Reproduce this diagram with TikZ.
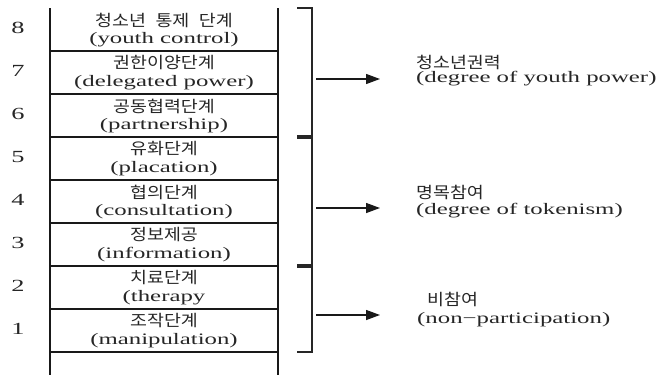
\documentclass[tikz,border=0pt]{standalone}
\usepackage{fontspec}
\setmainfont[FakeStretch=1.55]{Liberation Serif}
\newfontfamily\kr[FakeStretch=1.15]{Noto Sans CJK KR}
\usetikzlibrary{arrows.meta}
\begin{document}
\begin{tikzpicture}[x=1pt,y=-1pt,
  rail/.style={line width=2pt, draw=black!90},
  rung/.style={line width=1.7pt, draw=black!90},
  brk/.style={line width=1.2pt, draw=black!85},
  arr/.style={line width=1.3pt, draw=black!90, -{Triangle[length=14pt,width=10pt]}},
  kor/.style={font=\kr\fontsize{16}{16}\selectfont, inner sep=0pt, text=black!85},
  eng/.style={font=\fontsize{16}{16}\selectfont, inner sep=0pt, text=black!85},
  num/.style={font=\fontsize{17}{17}\selectfont, inner sep=0pt, text=black!85}]
\useasboundingbox (0,0) rectangle (664,375);
% rails
\draw[rail] (50,8) -- (50,375);
\draw[rail] (278,8) -- (278,375);
% rungs
\foreach \yy in {51,94,137,180,223,266,309,352}
  \draw[rung] (50,\yy) -- (278,\yy);
% rung 8
\node[num] (n8) at (18,28) {8};
\node[kor] (k8) at (164,20) {청소년\hspace{0.6em}통제\hspace{0.6em}단계};
\node[eng] (e8) at (164,40) {(youth control)};
% rung 7
\node[num] (n7) at (18,71) {7};
\node[kor] (k7) at (164,63) {권한이양단계};
\node[eng] (e7) at (164,83) {(delegated power)};
% rung 6
\node[num] (n6) at (18,114) {6};
\node[kor] (k6) at (164,106) {공동협력단계};
\node[eng] (e6) at (164,126) {(partnership)};
% rung 5
\node[num] (n5) at (18,157) {5};
\node[kor] (k5) at (164,149) {유화단계};
\node[eng] (e5) at (164,169) {(placation)};
% rung 4
\node[num] (n4) at (18,200) {4};
\node[kor] (k4) at (164,192) {협의단계};
\node[eng] (e4) at (164,212) {(consultation)};
% rung 3
\node[num] (n3) at (18,243) {3};
\node[kor] (k3) at (164,235) {정보제공};
\node[eng] (e3) at (164,255) {(information)};
% rung 2
\node[num] (n2) at (18,286) {2};
\node[kor] (k2) at (164,278) {치료단계};
\node[eng] (e2) at (164,298) {(therapy};
% rung 1
\node[num] (n1) at (18,329) {1};
\node[kor] (k1) at (164,321) {조작단계};
\node[eng] (e1) at (164,341) {(manipulation)};
% brackets
\draw[brk] (297,8) -- (312,8) -- (312,136) -- (297,136);
\draw[brk] (297,138) -- (312,138) -- (312,265) -- (297,265);
\draw[brk] (297,267) -- (312,267) -- (312,352) -- (297,352);
% arrows
\coordinate (a1) at (316,79);  \coordinate (a1e) at (380,79);
\coordinate (a2) at (316,208); \coordinate (a2e) at (380,208);
\coordinate (a3) at (316,315); \coordinate (a3e) at (380,315);
\draw[arr] (a1) -- (a1e);
\draw[arr] (a2) -- (a2e);
\draw[arr] (a3) -- (a3e);
% group labels
\node[kor, anchor=west] (g1k) at (416,62) {청소년권력};
\node[eng, anchor=west] (g1e) at (416,79) {(degree of youth power)};
\node[kor, anchor=west] (g2k) at (416,192) {명목참여};
\node[eng, anchor=west] (g2e) at (416,211) {(degree of tokenism)};
\node[kor, anchor=west] (g3k) at (427,299) {비참여};
\node[eng, anchor=west] (g3e) at (417,320) {(non−participation)};
\end{tikzpicture}
\end{document}
